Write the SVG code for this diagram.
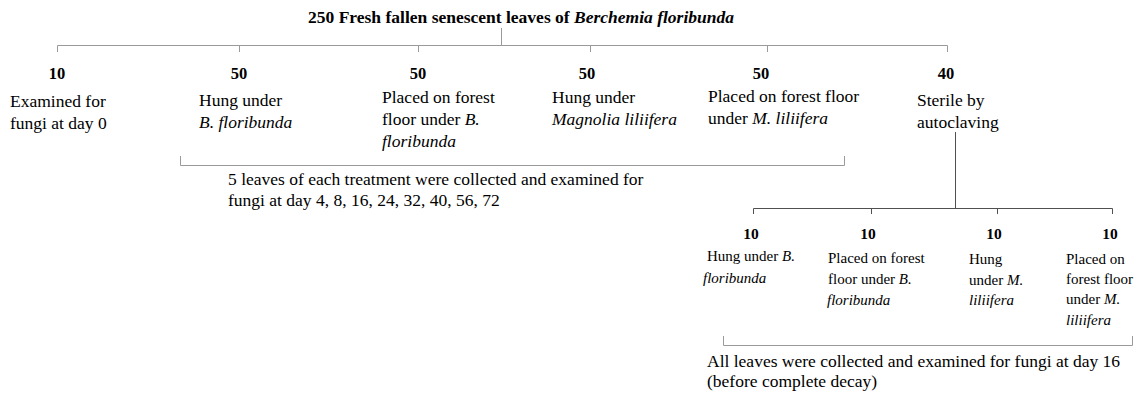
<svg xmlns="http://www.w3.org/2000/svg" width="1139" height="396" viewBox="0 0 1139 396">
<style>
text{font-family:"Liberation Serif","Times New Roman",serif;fill:#000}
.t{font-size:17.5px;font-weight:bold}
.n{font-size:16.5px;font-weight:bold;text-anchor:middle}
.ns{font-size:15.5px;font-weight:bold;text-anchor:middle}
.l{font-size:17.5px}
.s{font-size:15px}
.i{font-style:italic}
.g{stroke:#9a9a9a;stroke-width:1;fill:none}
.d{stroke:#505050;stroke-width:1;fill:none}
</style>
<rect width="1139" height="396" fill="#fff"/>
<g id="connectors">
<path class="g" d="M501.5 28V45.5M57.5 45.5H947.5M57.5 45.5V52M239.5 45.5V52M418.5 45.5V52M590.5 45.5V52M767.5 45.5V52M947.5 45.5V52"/>
<path class="g" d="M180.5 156V165.5H844.5V156"/>
<path class="d" d="M955.5 132V208.5M753.5 208.5H1112.5M753.5 208.5V214M871.5 208.5V214M997.5 208.5V214M1112.5 208.5V214"/>
<path class="g" d="M723.5 336V345.5H1132.5V336"/>
</g>
<g id="title"><text class="t" x="308" y="23">250 Fresh fallen senescent leaves of <tspan class="i">Berchemia floribunda</tspan></text></g>
<g id="n1"><text class="n" x="57" y="79">10</text><text class="l" x="10" y="107">Examined for</text><text class="l" x="10" y="129">fungi at day 0</text></g>
<g id="n2"><text class="n" x="239" y="79">50</text><text class="l" x="199" y="106">Hung under</text><text class="l i" x="199" y="128">B. floribunda</text></g>
<g id="n3"><text class="n" x="418" y="79">50</text><text class="l" x="382" y="103">Placed on forest</text><text class="l" x="382" y="125">floor under <tspan class="i">B.</tspan></text><text class="l i" x="382" y="147">floribunda</text></g>
<g id="n4"><text class="n" x="587" y="79">50</text><text class="l" x="552" y="103">Hung under</text><text class="l i" x="552" y="125">Magnolia liliifera</text></g>
<g id="n5"><text class="n" x="761" y="79">50</text><text class="l" x="708" y="102">Placed on forest floor</text><text class="l" x="708" y="124">under <tspan class="i">M. liliifera</tspan></text></g>
<g id="n6"><text class="n" x="946" y="79">40</text><text class="l" x="917" y="106">Sterile by</text><text class="l" x="917" y="128">autoclaving</text></g>
<g id="note1"><text class="l" x="228" y="185">5 leaves of each treatment were collected and examined for</text><text class="l" x="228" y="206">fungi at day 4, 8, 16, 24, 32, 40, 56, 72</text></g>
<g id="s1"><text class="ns" x="751" y="239">10</text><text class="s" x="707" y="261">Hung under <tspan class="i">B.</tspan></text><text class="s i" x="703" y="283">floribunda</text></g>
<g id="s2"><text class="ns" x="868" y="239">10</text><text class="s" x="828" y="263">Placed on forest</text><text class="s" x="828" y="284">floor under <tspan class="i">B.</tspan></text><text class="s i" x="827" y="305">floribunda</text></g>
<g id="s3"><text class="ns" x="994" y="239">10</text><text class="s" x="969" y="264">Hung</text><text class="s" x="969" y="285">under <tspan class="i">M.</tspan></text><text class="s i" x="969" y="305">liliifera</text></g>
<g id="s4"><text class="ns" x="1110" y="239">10</text><text class="s" x="1066" y="264">Placed on</text><text class="s" x="1066" y="284">forest floor</text><text class="s" x="1066" y="304">under <tspan class="i">M.</tspan></text><text class="s i" x="1066" y="325">liliifera</text></g>
<g id="note2"><text class="l" x="707" y="367">All leaves were collected and examined for fungi at day 16</text><text class="l" x="707" y="387">(before complete decay)</text></g>
</svg>
